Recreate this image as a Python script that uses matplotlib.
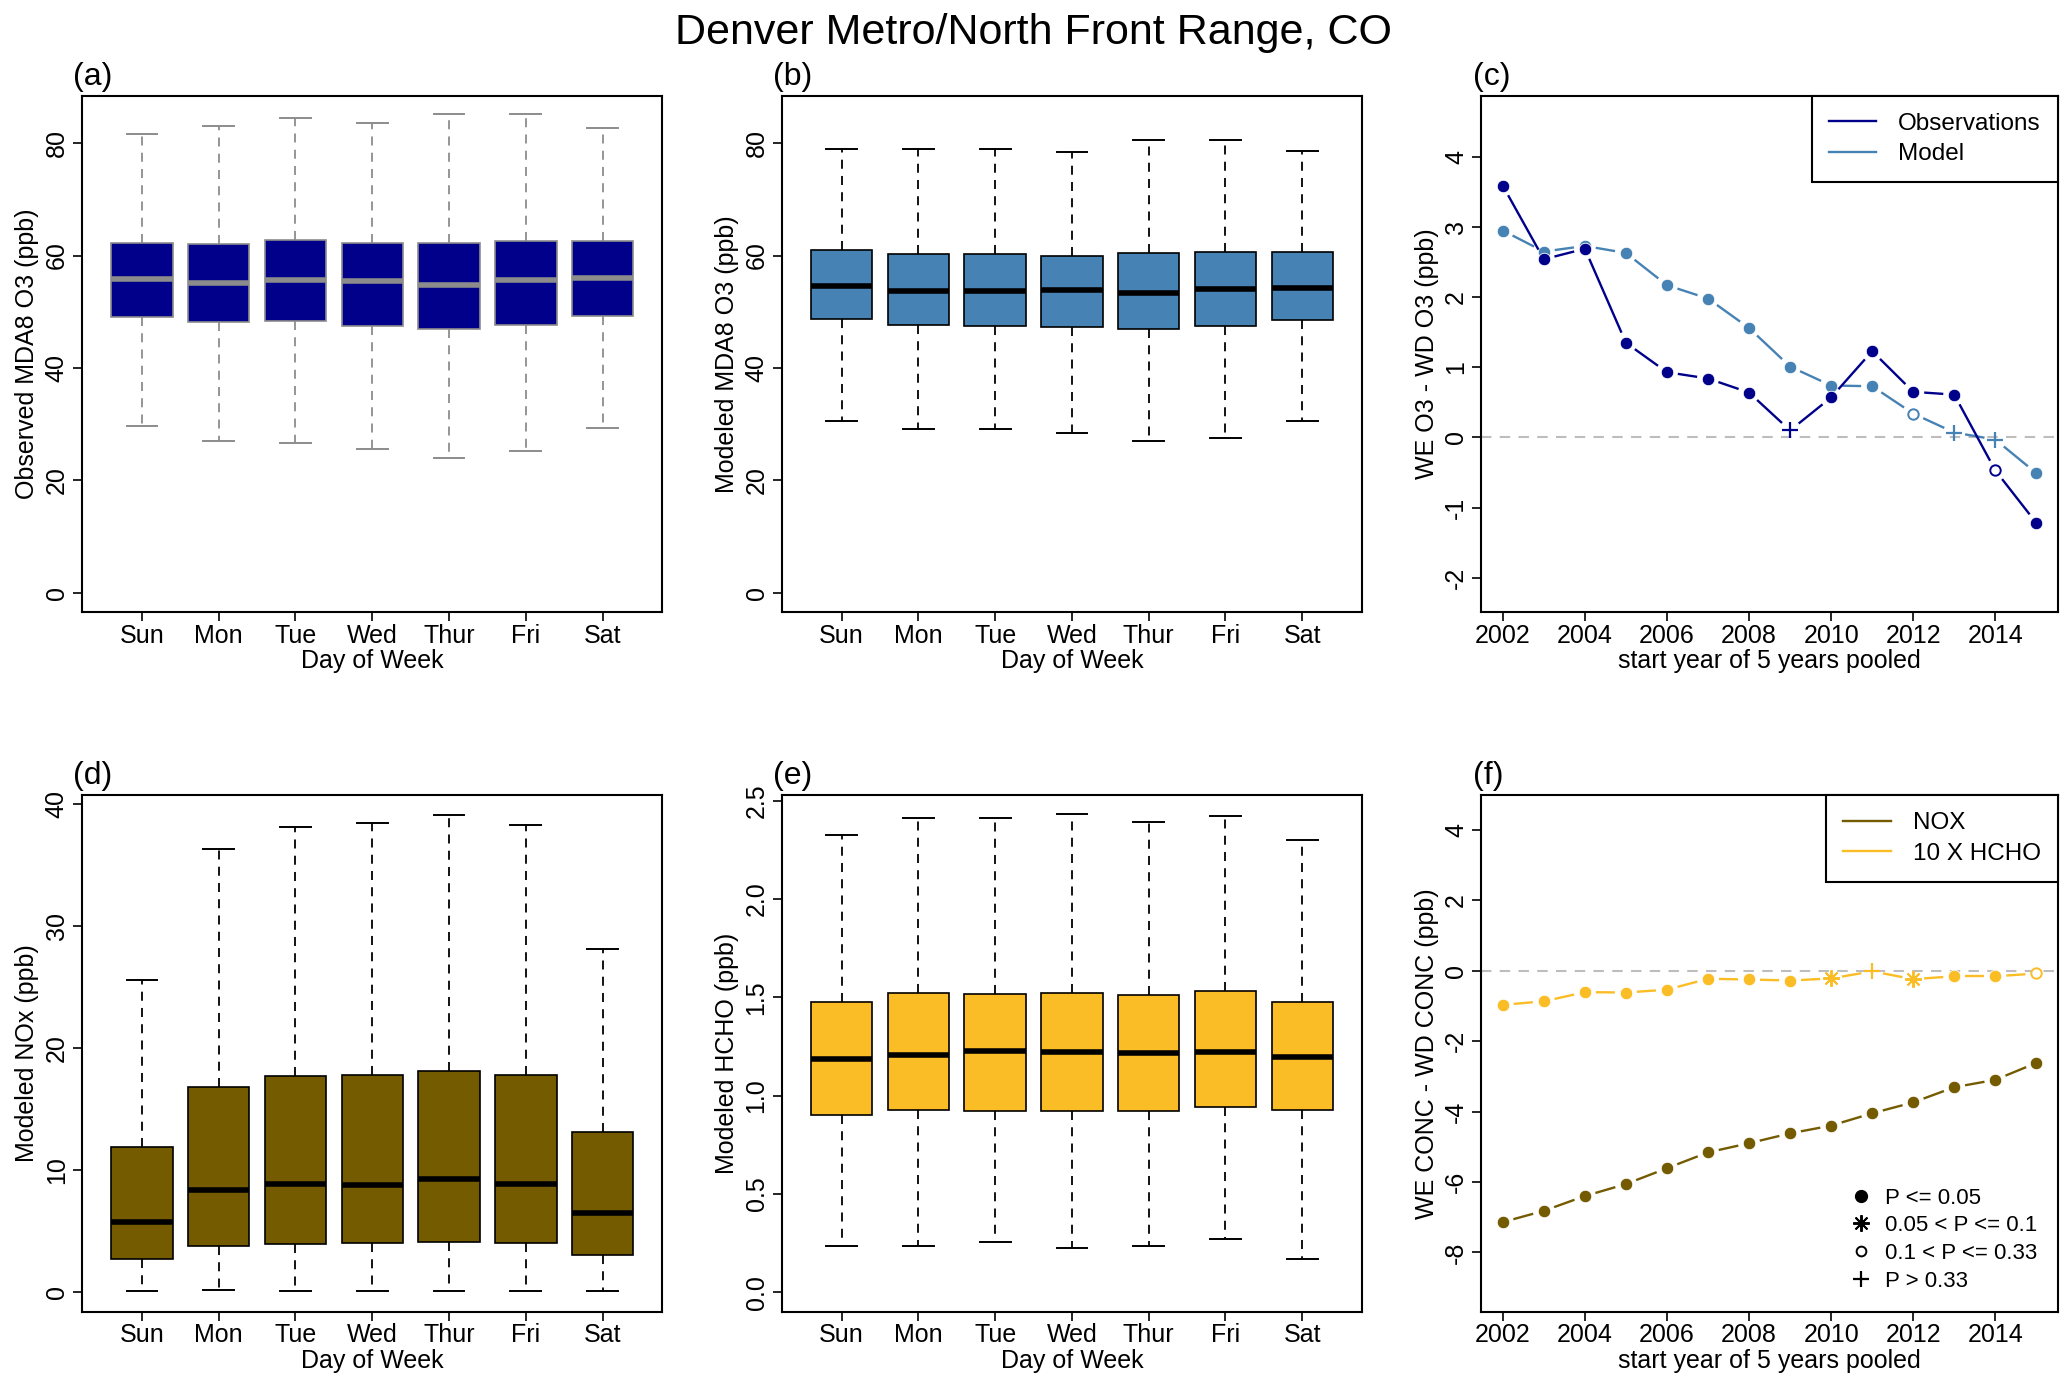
import numpy as np
import matplotlib
matplotlib.use("Agg")
import matplotlib.pyplot as plt
from matplotlib.lines import Line2D

plt.rcParams['font.family'] = ['Liberation Sans', 'DejaVu Sans']
plt.rcParams['axes.unicode_minus'] = False

# ---- data ----
days = ['Sun', 'Mon', 'Tue', 'Wed', 'Thur', 'Fri', 'Sat']

# panel (a): observed MDA8 O3 (ppb)
obs_lo = [29.7, 27.1, 26.7, 25.6, 24.0, 25.2, 29.4]
obs_q1 = [49.1, 48.1, 48.4, 47.5, 46.9, 47.7, 49.3]
obs_med = [55.8, 55.2, 55.7, 55.5, 54.8, 55.6, 56.0]
obs_q3 = [62.2, 62.0, 62.7, 62.2, 62.2, 62.6, 62.6]
obs_hi = [81.6, 83.0, 84.4, 83.5, 85.1, 85.2, 82.6]

# panel (b): modeled MDA8 O3 (ppb)
mod_lo = [30.5, 29.1, 29.2, 28.5, 27.0, 27.5, 30.5]
mod_q1 = [48.7, 47.7, 47.5, 47.3, 46.9, 47.4, 48.5]
mod_med = [54.6, 53.7, 53.7, 53.8, 53.3, 54.1, 54.3]
mod_q3 = [61.0, 60.3, 60.2, 60.0, 60.4, 60.7, 60.6]
mod_hi = [79.0, 79.0, 79.0, 78.5, 80.5, 80.5, 78.6]

# panel (d): modeled NOx (ppb)
nox_lo = [0.15, 0.17, 0.15, 0.15, 0.15, 0.15, 0.15]
nox_q1 = [2.75, 3.8, 4.0, 4.07, 4.1, 4.07, 3.08]
nox_med = [5.8, 8.4, 8.9, 8.8, 9.3, 8.9, 6.5]
nox_q3 = [11.9, 16.8, 17.7, 17.8, 18.1, 17.8, 13.1]
nox_hi = [25.6, 36.3, 38.1, 38.4, 39.1, 38.3, 28.1]

# panel (e): modeled HCHO (ppb)
hcho_lo = [0.238, 0.238, 0.255, 0.226, 0.238, 0.271, 0.169]
hcho_q1 = [0.903, 0.927, 0.923, 0.923, 0.923, 0.942, 0.929]
hcho_med = [1.188, 1.207, 1.227, 1.223, 1.217, 1.223, 1.199]
hcho_q3 = [1.474, 1.521, 1.519, 1.523, 1.511, 1.532, 1.476]
hcho_hi = [2.323, 2.414, 2.414, 2.432, 2.391, 2.420, 2.299]

# panels (c) and (f): WE - WD differences by start year
years = [2002, 2003, 2004, 2005, 2006, 2007, 2008, 2009, 2010, 2011, 2012, 2013, 2014, 2015]
obs_diff = [3.59, 2.54, 2.69, 1.35, 0.93, 0.84, 0.64, 0.10, 0.57, 1.23, 0.65, 0.61, -0.47, -1.22]
obs_sig = ['f', 'f', 'f', 'f', 'f', 'f', 'f', 'p', 'f', 'f', 'f', 'f', 'o', 'f']
mod_diff = [2.95, 2.65, 2.73, 2.63, 2.17, 1.98, 1.56, 1.01, 0.74, 0.73, 0.34, 0.07, -0.03, -0.51]
mod_sig = ['f', 'f', 'f', 'f', 'f', 'f', 'f', 'f', 'f', 'f', 'o', 'p', 'p', 'f']
nox_diff = [-7.14, -6.82, -6.40, -6.06, -5.61, -5.16, -4.90, -4.62, -4.40, -4.05, -3.74, -3.31, -3.10, -2.62]
nox_sig = ['f'] * 14
hcho_diff = [-0.97, -0.87, -0.61, -0.62, -0.54, -0.23, -0.25, -0.28, -0.22, -0.02, -0.24, -0.16, -0.16, -0.08]
hcho_sig = ['f', 'f', 'f', 'f', 'f', 'f', 'f', 'f', 's', 'p', 's', 'f', 'f', 'o']

sig_labels = ['P <= 0.05', '0.05 < P <= 0.1', '0.1 < P <= 0.33', 'P > 0.33']

OBS_C = '#00008B'
MOD_C = '#4682B4'
NOX_C = '#745B00'
HCHO_C = '#FBBD26'

FS = 18

fig = plt.figure(figsize=(20.67, 13.87), dpi=100)

col_left = [0.0397, 0.3782, 0.7167]
col_w = [0.2808, 0.2808, 0.2788]
row_bot = [0.5587, 0.0544]
row_h = 0.3722


def make_ax(r, c):
    ax = fig.add_axes([col_left[c], row_bot[r], col_w[c], row_h])
    for s in ax.spines.values():
        s.set_linewidth(1.5)
    ax.tick_params(direction='out', length=6.5, width=1.2, labelsize=FS, pad=2)
    ax.tick_params(axis='y', labelrotation=90, pad=3)
    return ax


def fix_ylabels(ax):
    for t in ax.get_yticklabels():
        t.set_va('center')


def panel_label(ax, s):
    ax.text(-0.015, 1.008, s, transform=ax.transAxes, fontsize=23,
            ha='left', va='bottom')


def boxes(ax, lo, q1, med, q3, hi, fill, edge, wcol, medcol, ylim, yticks, ylabel, fmt=None):
    stats = []
    for i in range(len(days)):
        stats.append(dict(med=med[i], q1=q1[i], q3=q3[i], whislo=lo[i], whishi=hi[i]))
    ax.bxp(stats, positions=range(1, 8), widths=0.8, patch_artist=True, showfliers=False,
           capwidths=0.4,
           boxprops=dict(facecolor=fill, edgecolor=edge, linewidth=1.2),
           medianprops=dict(color=medcol, linewidth=4.0, solid_capstyle='butt'),
           whiskerprops=dict(color=wcol, linewidth=1.3, linestyle=(0, (5, 4))),
           capprops=dict(color=wcol, linewidth=1.4))
    ax.set_xlim(0.22, 7.78)
    ax.set_ylim(*ylim)
    ax.set_xticks(range(1, 8))
    ax.set_xticklabels(days)
    ax.set_yticks(yticks)
    if fmt:
        ax.set_yticklabels([fmt % v for v in yticks])
    ax.set_xlabel('Day of Week', fontsize=FS, labelpad=1)
    ax.set_ylabel(ylabel, fontsize=FS, labelpad=4)
    fix_ylabels(ax)


def draw_b(ax, x, y, sig, color, gap=11, lw=1.7):
    # R-style type="b": line segments that stop short of each point
    pts = ax.transData.transform(np.column_stack([x, y]))
    inv = ax.transData.inverted()
    for p0, p1 in zip(pts[:-1], pts[1:]):
        d = p1 - p0
        L = np.hypot(*d)
        if L <= 2 * gap:
            continue
        u = d / L
        a = inv.transform(p0 + u * gap)
        b = inv.transform(p1 - u * gap)
        ax.plot([a[0], b[0]], [a[1], b[1]], color=color, lw=lw, solid_capstyle='butt')
    for xi, yi, s in zip(x, y, sig):
        if s == 'f':
            ax.plot(xi, yi, 'o', color=color, ms=9, mec='white', mew=0.6)
        elif s == 'o':
            ax.plot(xi, yi, 'o', mfc='white', mec=color, ms=7.5, mew=1.4)
        elif s == 'p':
            ax.plot(xi, yi, '+', color=color, ms=12, mew=1.6)
        else:
            ax.plot(xi, yi, marker=(8, 2, 0), color=color, ms=12, mew=1.4, ls='none')


def diff_axes(ax, ylim, yticks, ylabel):
    ax.set_xlim(2001.48, 2015.52)
    ax.set_ylim(*ylim)
    ax.set_xticks(range(2002, 2015, 2))
    ax.set_yticks(yticks)
    ax.axhline(0, color='#BDBDBD', lw=1.5, ls=(0, (5, 4)), zorder=0)
    ax.set_xlabel('start year of 5 years pooled', fontsize=FS, labelpad=1)
    ax.set_ylabel(ylabel, fontsize=FS, labelpad=4)
    fix_ylabels(ax)


def line_legend(ax, labels, colors):
    h = [Line2D([], [], color=c, lw=1.7) for c in colors]
    leg = ax.legend(h, labels, loc='upper right', fontsize=FS - 0.5, frameon=True,
                    fancybox=False, edgecolor='black', framealpha=1, borderaxespad=0,
                    handlelength=1.95, handletextpad=0.9, borderpad=0.7, labelspacing=0.35)
    leg.get_frame().set_linewidth(1.5)
    return leg


# (a)
ax = make_ax(0, 0)
boxes(ax, obs_lo, obs_q1, obs_med, obs_q3, obs_hi, OBS_C, '#8C8C8C', '#8C8C8C', '#8C8C8C',
      (-3.4, 88.4), [0, 20, 40, 60, 80], 'Observed MDA8 O3 (ppb)')
panel_label(ax, '(a)')

# (b)
ax = make_ax(0, 1)
boxes(ax, mod_lo, mod_q1, mod_med, mod_q3, mod_hi, MOD_C, 'black', 'black', 'black',
      (-3.4, 88.4), [0, 20, 40, 60, 80], 'Modeled MDA8 O3 (ppb)')
panel_label(ax, '(b)')

# (c)
ax = make_ax(0, 2)
diff_axes(ax, (-2.49, 4.87), [-2, -1, 0, 1, 2, 3, 4], 'WE O3 - WD O3 (ppb)')
draw_b(ax, years, mod_diff, mod_sig, MOD_C)
draw_b(ax, years, obs_diff, obs_sig, OBS_C)
line_legend(ax, ['Observations', 'Model'], [OBS_C, MOD_C])
panel_label(ax, '(c)')

# (d)
ax = make_ax(1, 0)
boxes(ax, nox_lo, nox_q1, nox_med, nox_q3, nox_hi, NOX_C, 'black', 'black', 'black',
      (-1.56, 40.7), [0, 10, 20, 30, 40], 'Modeled NOx (ppb)')
panel_label(ax, '(d)')

# (e)
ax = make_ax(1, 1)
boxes(ax, hcho_lo, hcho_q1, hcho_med, hcho_q3, hcho_hi, HCHO_C, 'black', 'black', 'black',
      (-0.097, 2.527), [0, 0.5, 1.0, 1.5, 2.0, 2.5], 'Modeled HCHO (ppb)', fmt='%.1f')
panel_label(ax, '(e)')

# (f)
ax = make_ax(1, 2)
diff_axes(ax, (-9.68, 4.98), [-8, -6, -4, -2, 0, 2, 4], 'WE CONC - WD CONC (ppb)')
draw_b(ax, years, nox_diff, nox_sig, NOX_C)
draw_b(ax, years, hcho_diff, hcho_sig, HCHO_C)
leg1 = line_legend(ax, ['NOX', '10 X HCHO'], [NOX_C, HCHO_C])
ax.add_artist(leg1)
sig_h = [Line2D([], [], ls='none', marker='o', color='black', ms=8.5),
         Line2D([], [], ls='none', marker=(8, 2, 0), color='black', ms=12, mew=1.4),
         Line2D([], [], ls='none', marker='o', mfc='white', mec='black', ms=7, mew=1.4),
         Line2D([], [], ls='none', marker='+', color='black', ms=12, mew=1.6)]
ax.legend(sig_h, sig_labels, loc='lower right', frameon=False, fontsize=FS - 2,
          handlelength=1.0, handletextpad=0.6, labelspacing=0.3, borderaxespad=0.5)
panel_label(ax, '(f)')

fig.text(0.5, 1 - 33 / 1387, 'Denver Metro/North Front Range, CO', fontsize=31,
         ha='center', va='center')

fig.savefig('out.png', dpi=100)
